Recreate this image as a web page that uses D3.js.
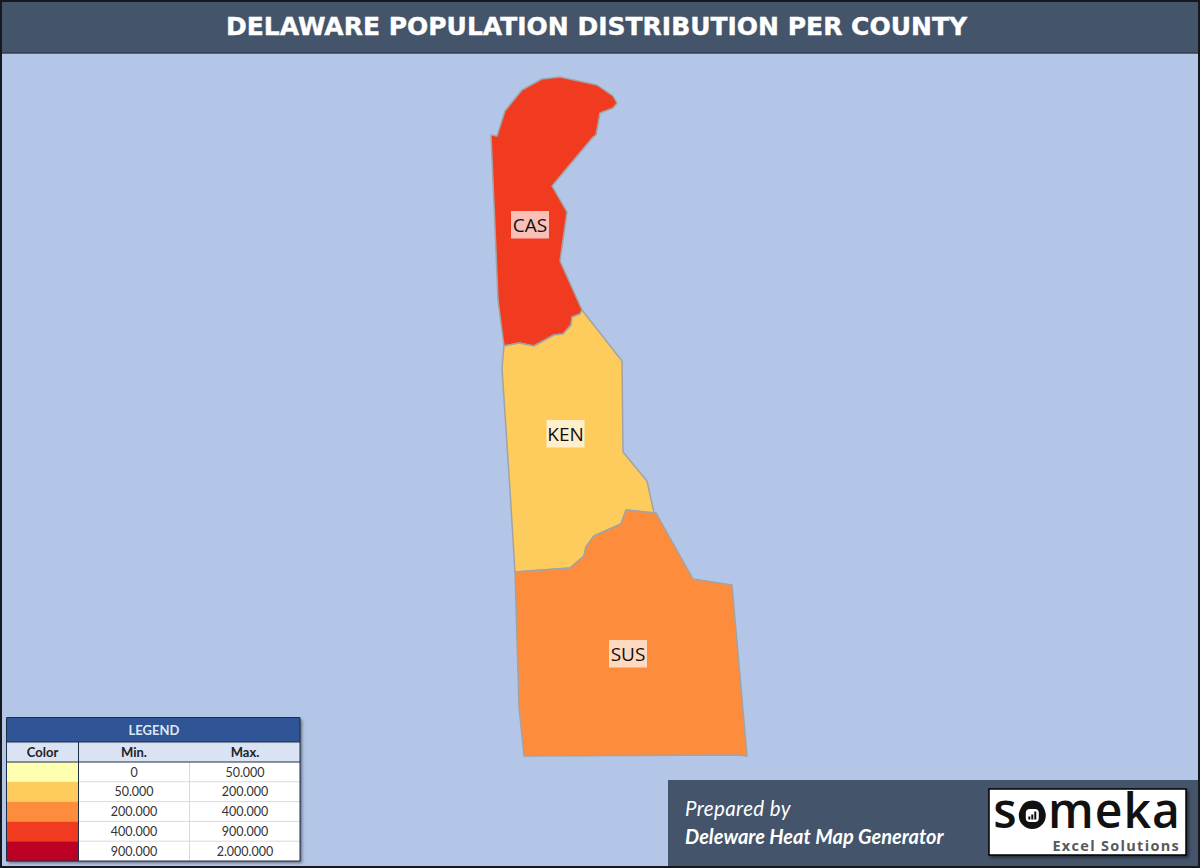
<!DOCTYPE html>
<html>
<head>
<meta charset="utf-8">
<script src="https://d3js.org/d3.v7.min.js"></script>
<style>
  html, body { margin: 0; padding: 0; background: #fff; }
  svg { display: block; }
</style>
</head>
<body>
<div id="chart"></div>
<script>
// Data
const titleText = "DELAWARE POPULATION DISTRIBUTION PER COUNTY"
const legendColors = ["#ffffb2", "#fecc5c", "#fd8d3c", "#f03b20", "#bd0026"]
const legendMin = ["0", "50.000", "200.000", "400.000", "900.000"]
const legendMax = ["50.000", "200.000", "400.000", "900.000", "2.000.000"]
const breaks = [50000, 200000, 400000, 900000]

const counties = ["CAS", "KEN", "SUS"]
// estimated, the picture only shows the colour band
const population = [550000, 175000, 230000]
// label anchor in map units
const labelX = [39, 74.5, 137]
const labelY = [148, 357, 577]

// outlines traced in map units, origin at the state's north-west corner
const outlineCAS = [[0,58],[6,59],[14,34],[31,13],[51,2],[69,0],[106,8],[122,19],[126,26],[122,31],[109,36],[105,58],[102,60],[61,109],[76,135],[69,184],[91,233],[89,237],[81,240],[80,248],[72,257],[63,258],[43,269],[28,266],[13,269],[7,223],[4,150]]
const outlineKEN = [[13,269],[28,266],[43,269],[63,258],[72,257],[80,248],[81,240],[89,237],[91,233],[131,284],[132,375],[156,404],[163,436],[135,433],[130,447],[103,459],[95,470],[93,479],[79,491],[24,495],[19,413],[11,291]]
const outlineSUS = [[24,495],[79,491],[93,479],[95,470],[103,459],[130,447],[135,433],[165,436],[202,502],[241,508],[256,679],[247,678],[33,679],[28,630]]
const outlines = [outlineCAS, outlineKEN, outlineSUS]

const width = 1200, height = 868

const svg = d3.select("#chart").append("svg")
  .attr("width", width)
  .attr("height", height)

const defs = svg.append("defs")
const shadow = defs.append("filter").attr("id", "shadow")
  .attr("x", "-5%").attr("y", "-5%").attr("width", "112%").attr("height", "115%")
shadow.append("feDropShadow")
  .attr("dx", 2).attr("dy", 2).attr("stdDeviation", 1.5)
  .attr("flood-color", "#000").attr("flood-opacity", 0.45)

// Background
svg.append("rect")
  .attr("width", width).attr("height", height)
  .attr("fill", "#b3c6e7")

// Title bar
svg.append("rect")
  .attr("x", 0).attr("y", 0)
  .attr("width", width).attr("height", 53)
  .attr("fill", "#44546a")
svg.append("line")
  .attr("x1", 0).attr("x2", width)
  .attr("y1", 53).attr("y2", 53)
  .attr("stroke", "#333f50").attr("stroke-width", 1.5)
svg.append("text")
  .attr("x", 596.5).attr("y", 35)
  .attr("text-anchor", "middle")
  .attr("font-family", "'DejaVu Sans', sans-serif")
  .attr("font-weight", 700)
  .attr("font-size", 25)
  .attr("fill", "#fff")
  .attr("stroke", "#fff")
  .attr("stroke-width", 0.4)
  .text(titleText)

// Scales
const x = d3.scaleLinear().domain([0, 256]).range([491, 747])
const y = d3.scaleLinear().domain([0, 679]).range([77, 756])
const color = d3.scaleThreshold().domain(breaks).range(legendColors)

const line = d3.line()
  .x(d => x(d[0]))
  .y(d => y(d[1]))
  .curve(d3.curveLinearClosed)

// Map
svg.append("g").selectAll("path")
  .data(counties)
  .join("path")
  .attr("d", (d, i) => line(outlines[i]))
  .attr("fill", (d, i) => color(population[i]))
  .attr("stroke", "#a3a3a3")
  .attr("stroke-width", 1.5)
  .attr("stroke-linejoin", "round")

const labels = svg.append("g").selectAll("g")
  .data(counties)
  .join("g")
  .attr("transform", (d, i) => `translate(${x(labelX[i])},${y(labelY[i])})`)

labels.append("rect")
  .attr("x", -19).attr("y", -14)
  .attr("width", 38).attr("height", 27.5)
  .attr("fill", "#fff").attr("fill-opacity", 0.68)

labels.append("text")
  .attr("y", 7)
  .attr("text-anchor", "middle")
  .attr("font-family", "'Open Sans', sans-serif")
  .attr("font-size", 19)
  .attr("fill", "#111")
  .text(d => d)

// Legend table
const legendX = d3.scaleOrdinal().domain(["color", "min", "max", "end"]).range([6.5, 78.5, 189.5, 300])
const rowY = d3.scaleBand().domain(d3.range(legendColors.length)).range([762, 861])
const legend = svg.append("g").attr("font-family", "Lato, sans-serif").attr("text-anchor", "middle")

legend.append("rect")
  .attr("x", 6.5).attr("y", 717.5)
  .attr("width", 293.5).attr("height", 143.5)
  .attr("fill", "#fff")
  .attr("filter", "url(#shadow)")
legend.append("rect")
  .attr("x", 6.5).attr("y", 717.5)
  .attr("width", 293.5).attr("height", 24.5)
  .attr("fill", "#2f5597")
legend.append("text")
  .attr("x", 154).attr("y", 735)
  .attr("font-size", 13).attr("font-weight", 700)
  .attr("fill", "#dfe6f3")
  .text("LEGEND")
legend.append("rect")
  .attr("x", 6.5).attr("y", 742)
  .attr("width", 293.5).attr("height", 20)
  .attr("fill", "#dae3f3")

const headers = ["Color", "Min.", "Max."]
const headerX = [42.5, 134, 245]
legend.selectAll(".head")
  .data(headers)
  .join("text")
  .attr("class", "head")
  .attr("x", (d, i) => headerX[i])
  .attr("y", 757)
  .attr("font-size", 13).attr("font-weight", 700)
  .attr("fill", "#222")
  .text(d => d)

legend.selectAll(".swatch")
  .data(legendColors)
  .join("rect")
  .attr("class", "swatch")
  .attr("x", legendX("color"))
  .attr("y", (d, i) => rowY(i))
  .attr("width", legendX("min") - legendX("color"))
  .attr("height", rowY.bandwidth())
  .attr("fill", d => d)

// grid lines of the value cells
legend.selectAll(".rowline")
  .data(d3.range(1, legendColors.length))
  .join("line")
  .attr("class", "rowline")
  .attr("x1", legendX("min")).attr("x2", legendX("end"))
  .attr("y1", d => rowY(d)).attr("y2", d => rowY(d))
  .attr("stroke", "#d9d9d9")
legend.append("line")
  .attr("x1", legendX("max")).attr("x2", legendX("max"))
  .attr("y1", 762).attr("y2", 861)
  .attr("stroke", "#d9d9d9")

legend.selectAll(".minval")
  .data(legendMin)
  .join("text")
  .attr("class", "minval")
  .attr("x", 134)
  .attr("y", (d, i) => rowY(i) + 14.5)
  .attr("font-size", 12.5).attr("fill", "#333")
  .text(d => d)
legend.selectAll(".maxval")
  .data(legendMax)
  .join("text")
  .attr("class", "maxval")
  .attr("x", 245)
  .attr("y", (d, i) => rowY(i) + 14.5)
  .attr("font-size", 12.5).attr("fill", "#333")
  .text(d => d)

legend.append("path")
  .attr("d", "M6.5 717.5H300V861H6.5Z M6.5 742H300 M6.5 762H300 M78.5 742V861")
  .attr("fill", "none")
  .attr("stroke", "#1f2d45")
  .attr("stroke-width", 1)

// Footer panel
svg.append("rect")
  .attr("x", 668).attr("y", 780)
  .attr("width", 532).attr("height", 88)
  .attr("fill", "#44546a")
svg.append("text")
  .attr("x", 685).attr("y", 816)
  .attr("font-family", "Lato, sans-serif")
  .attr("font-style", "italic")
  .attr("font-size", 20.5)
  .attr("letter-spacing", 0.4)
  .attr("fill", "#fff")
  .text("Prepared by")
svg.append("text")
  .attr("x", 685).attr("y", 844)
  .attr("font-family", "Lato, sans-serif")
  .attr("font-style", "italic")
  .attr("font-weight", 700)
  .attr("font-size", 20)
  .attr("fill", "#fff")
  .text("Deleware Heat Map Generator")

// Logo
const logo = svg.append("g")
logo.append("rect")
  .attr("x", 989).attr("y", 789)
  .attr("width", 197).attr("height", 66)
  .attr("fill", "#fff")
  .attr("stroke", "#000")
  .attr("stroke-width", 1.5)
  .attr("filter", "url(#shadow)")
const logoWord = logo.append("text")
  .attr("x", 1087).attr("y", 828)
  .attr("text-anchor", "middle")
  .attr("font-family", "'Open Sans', sans-serif")
  .attr("font-weight", 600)
  .attr("font-size", 48)
  .attr("letter-spacing", 1)
  .attr("fill", "#111")
  .text("someka")
logo.append("text")
  .attr("x", 1180).attr("y", 851)
  .attr("text-anchor", "end")
  .attr("font-family", "'Open Sans', sans-serif")
  .attr("font-weight", 700)
  .attr("font-size", 14.5)
  .attr("letter-spacing", 1.3)
  .attr("fill", "#595959")
  .text("Excel Solutions")

// the "o" of the logo is a solid disc with a small chart icon in it
const oBox = logoWord.node().getExtentOfChar(1)
const oX = oBox.x + (oBox.width - 1) / 2
const oY = 815.5
logo.append("circle")
  .attr("cx", oX).attr("cy", oY).attr("r", 13.5)
  .attr("fill", "#111")
logo.append("rect")
  .attr("x", oX - 6.5).attr("y", oY - 6.5)
  .attr("width", 13).attr("height", 13).attr("rx", 4)
  .attr("fill", "#fff")
const iconBars = [3, 5, 8]
logo.selectAll(".iconbar")
  .data(iconBars)
  .join("rect")
  .attr("class", "iconbar")
  .attr("x", (d, i) => oX - 4 + i * 3)
  .attr("y", d => oY + 4 - d)
  .attr("width", 2)
  .attr("height", d => d)
  .attr("fill", "#111")

// Frame
svg.append("rect")
  .attr("x", 1).attr("y", 1)
  .attr("width", width - 2).attr("height", height - 2)
  .attr("fill", "none")
  .attr("stroke", "#15181d")
  .attr("stroke-width", 2)
</script>
</body>
</html>
